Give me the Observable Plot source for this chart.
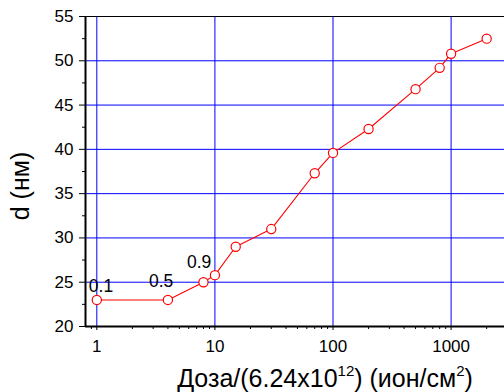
<!DOCTYPE html>
<html><head><meta charset="utf-8">
<script src="https://cdn.jsdelivr.net/npm/d3@7"></script>
<script src="https://cdn.jsdelivr.net/npm/@observablehq/plot@0.6"></script>
<style>html,body{margin:0;padding:0;background:#fff} svg{display:block}</style>
</head><body><div id="chart"></div>
<script>
// Data
const doses = [1, 4, 8, 10, 15, 30, 70, 100, 200, 500, 800, 1000, 2000];
const thickness = [23, 23, 25, 25.8, 29, 31, 37.3, 39.6, 42.3, 46.8, 49.2, 50.8, 52.5];
const labelTexts = ["0.1", "0.5", "0.9"];
const labelDoses = [1.085, 3.5, 7.34];
const labelThickness = [23.95, 24.46, 26.6];
const xTicks = [1, 10, 100, 1000];
const yTicks = [20, 25, 30, 35, 40, 45, 50, 55];
const yMinorTicks = [22.5, 27.5, 32.5, 37.5, 42.5, 47.5, 52.5];
const xMinorTicks = [0.9, 2, 3, 4, 5, 6, 7, 8, 9, 20, 30, 40, 50, 60, 70, 80, 90,
  200, 300, 400, 500, 600, 700, 800, 900, 2000];
const xDomain = [0.802, 2832];
const yDomain = [20, 55];

const points = doses.map((d, i) => ({dose: d, d: thickness[i]}));
const labels = labelTexts.map((t, i) => ({text: t, dose: labelDoses[i], d: labelThickness[i]}));

const font = "'Liberation Sans', Arial, Helvetica, sans-serif";
const blue = "#0000ff";

const svg = Plot.plot({
  width: 504, height: 392,
  marginLeft: 85, marginRight: 0, marginTop: 16, marginBottom: 66,
  style: {fontFamily: font, background: "#fff", color: "#000", overflow: "visible"},
  x: {type: "log", domain: xDomain},
  y: {domain: yDomain},
  marks: [
    Plot.gridX(xTicks, {stroke: blue, strokeOpacity: 1}),
    Plot.gridY(yTicks.filter(v => v > 20 && v < 55), {stroke: blue, strokeOpacity: 1}),
    Plot.ruleY([55], {stroke: "#000", strokeWidth: 1}),
    Plot.axisY(yTicks, {tickSize: 6, tickPadding: 6, fontSize: 17, label: null, stroke: "#000", fill: "#000"}),
    Plot.axisY(yMinorTicks, {tickSize: 3, tickFormat: () => "", label: null, stroke: "#000"}),
    Plot.axisX(xTicks, {tickSize: 4, tickPadding: 9, fontSize: 17, label: null, tickFormat: d => String(d), stroke: "#000", fill: "#000"}),
    Plot.axisX(xMinorTicks, {tickSize: 3, tickFormat: () => "", label: null, stroke: "#000"}),
    Plot.ruleX([xDomain[0]], {stroke: "#000", strokeWidth: 2}),
    Plot.ruleY([yDomain[0]], {stroke: "#000", strokeWidth: 2}),
    Plot.line(points, {x: "dose", y: "d", stroke: "#ff0000", strokeWidth: 1.1}),
    Plot.dot(points, {x: "dose", y: "d", r: 4.6, stroke: "#ff0000", fill: "#fff", strokeWidth: 1.2}),
    Plot.text(labels, {x: "dose", y: "d", text: "text", fontSize: 17.5, fill: "#000", lineAnchor: "bottom", textAnchor: "middle"})
  ]
});

const s = d3.select(svg);
// X axis title with superscripts
const xt = s.append("text")
  .attr("x", 325).attr("y", 387)
  .attr("text-anchor", "middle")
  .attr("font-size", 25).attr("font-family", font).attr("fill", "#000");
xt.append("tspan").text("Доза/(6.24x10");
xt.append("tspan").attr("font-size", 15).attr("dy", -11).text("12");
xt.append("tspan").attr("dy", 11).text(") (ион/см");
xt.append("tspan").attr("font-size", 15).attr("dy", -11).text("2");
xt.append("tspan").attr("dy", 11).text(")");

// Y axis title
s.append("text")
  .attr("transform", "translate(29,186) rotate(-90)")
  .attr("text-anchor", "middle")
  .attr("font-size", 25).attr("font-family", font).attr("fill", "#000")
  .text("d (нм)");

document.getElementById("chart").appendChild(svg);
</script>
</body></html>
